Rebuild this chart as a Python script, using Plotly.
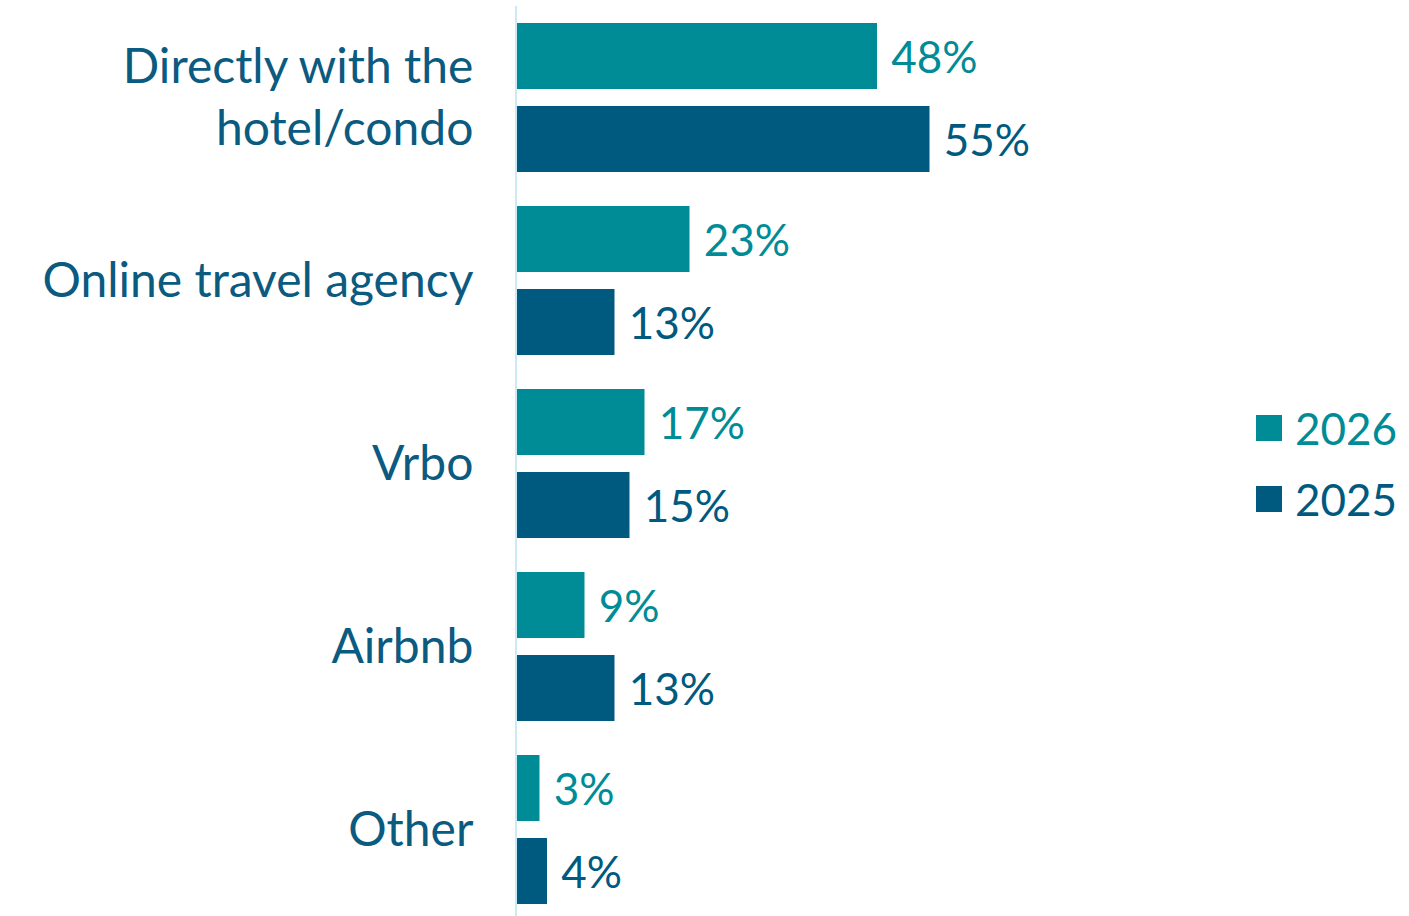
import plotly.graph_objects as go

categories = ["Directly with the<br>hotel/condo", "Online travel agency", "Vrbo", "Airbnb", "Other"]
series_names = ["2026", "2025"]
values_2026 = [48, 23, 17, 9, 3]
values_2025 = [55, 13, 15, 13, 4]

TEAL = "#008C96"
NAVY = "#005A80"
LABEL = "#0B5A7F"
AXIS = "#CBEAF6"
FONT = "Lato"

W, H = 1409, 916
ML, MR, MT, MB = 517, 0, 6, 0
PX_PER_UNIT = 7.5
plot_w = W - ML - MR
plot_h = H - MT - MB
xmax = plot_w / PX_PER_UNIT
cat_px = 183.0
ymax = -0.5 + plot_h / cat_px

fig = go.Figure()
for name, vals, col in [(series_names[0], values_2026, TEAL), (series_names[1], values_2025, NAVY)]:
    fig.add_trace(go.Bar(
        y=categories, x=vals, name=name, orientation="h",
        marker=dict(color=col, line=dict(width=0)),
        texttemplate=" %{x}%", textposition="outside",
        textfont=dict(family=FONT, size=44, color=col),
        constraintext="none", cliponaxis=False, showlegend=False,
        hoverinfo="skip",
    ))

fig.update_layout(
    width=W, height=H,
    margin=dict(l=ML, r=MR, t=MT, b=MB, pad=0),
    paper_bgcolor="white", plot_bgcolor="white",
    barmode="group", bargap=0.093, bargroupgap=0.205,
    font=dict(family=FONT, color=LABEL),
    showlegend=False,
)
fig.update_xaxes(range=[0, xmax], visible=False, showgrid=False, zeroline=False)
fig.update_yaxes(
    type="category", categoryorder="array", categoryarray=categories,
    range=[ymax, -0.5], showgrid=False, zeroline=False,
    showline=True, linecolor=AXIS, linewidth=2,
    ticks="", ticklabelstandoff=32,
    tickfont=dict(family=FONT, size=48, color=LABEL),
)

# manual legend with larger swatches
def px_to_paper_x(px):
    return (px - ML) / plot_w

def px_to_paper_y(py):
    return (H - MB - py) / plot_h

legend_items = [(series_names[0], TEAL, 428), (series_names[1], NAVY, 499)]
for name, col, cy in legend_items:
    fig.add_shape(type="rect", xref="paper", yref="paper",
                  x0=px_to_paper_x(1256), x1=px_to_paper_x(1282),
                  y0=px_to_paper_y(cy + 13), y1=px_to_paper_y(cy - 13),
                  fillcolor=col, line=dict(width=0))
    fig.add_annotation(xref="paper", yref="paper", x=px_to_paper_x(1293), y=px_to_paper_y(cy),
                       text=name, showarrow=False, xanchor="left", yanchor="middle",
                       font=dict(family=FONT, size=44, color=col))

fig.write_html("out.html", config={"displayModeBar": False},
               post_script="document.body.style.margin='0px';")
